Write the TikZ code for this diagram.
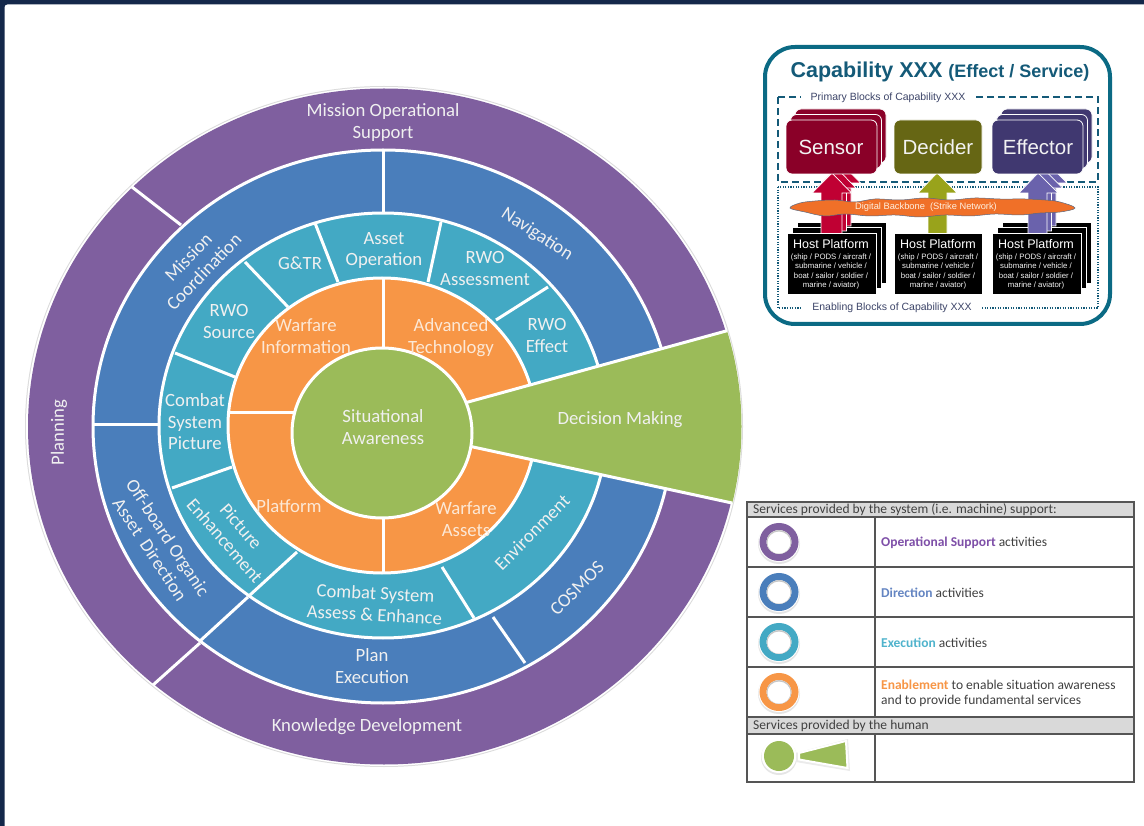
\documentclass[tikz,border=0pt]{standalone}
\usepackage{fontspec}
\setmainfont{Carlito}
\newfontfamily\arialf{Liberation Sans}
\definecolor{navybg}{HTML}{14284A}
\definecolor{cpurple}{HTML}{7F5F9F}
\definecolor{cblue}{HTML}{4A7EBB}
\definecolor{cteal}{HTML}{43A9C4}
\definecolor{corange}{HTML}{F79646}
\definecolor{cgreen}{HTML}{9BBB59}
\definecolor{wtext}{HTML}{F0F0F0}
\definecolor{otext}{HTML}{FCE8D6}
\definecolor{boxteal}{HTML}{0B6A84}
\definecolor{titleteal}{HTML}{145A78}
\definecolor{labelgrey}{HTML}{3C4468}
\definecolor{csensor}{HTML}{8A0028}
\definecolor{cdecider}{HTML}{666614}
\definecolor{ceffector}{HTML}{403870}
\definecolor{asensor}{HTML}{C00033}
\definecolor{adecider}{HTML}{99A31B}
\definecolor{aeffector}{HTML}{6A62AC}
\definecolor{ccloud}{HTML}{F07028}
\definecolor{tline}{HTML}{555555}
\definecolor{thead}{HTML}{D9D9D9}
\definecolor{ttext}{HTML}{404040}
\tikzset{
  wt/.style={font=\fontsize{18.7}{21.5}\selectfont,align=center,text=wtext,inner sep=0pt,yshift=-1.5pt},
  ot/.style={wt,text=otext},
  ringb/.style={draw=white,line width=3pt},
  sep/.style={draw=white,line width=3pt},
  block/.style={draw=white,line width=0.8pt,rounded corners=6pt},
  hostbox/.style={draw=white,line width=0.8pt,fill=black},
  blocktext/.style={text=white!90!gray,font=\arialf\fontsize{20.5}{24}\selectfont,inner sep=0pt},
  hosthead/.style={text=white,font=\arialf\fontsize{12.5}{14}\selectfont,inner sep=0pt},
  hostsub/.style={text=white!92!gray,font=\arialf\fontsize{7.8}{9.6}\selectfont,align=center,inner sep=0pt},
  boxlabel/.style={text=labelgrey,fill=white,font=\arialf\fontsize{10.5}{12}\selectfont,inner xsep=10pt,inner ysep=2pt},
  arrowb/.style={draw=white,line width=0.7pt},
  tl/.style={draw=tline,line width=1.1pt},
  lt/.style={font=\fontsize{13.5}{15}\selectfont,text=ttext,inner sep=0pt,anchor=west,align=left},
  hd/.style={lt,text=ttext}
}
\begin{document}
\begin{tikzpicture}[x=1pt,y=-1pt]
\useasboundingbox (0,0) rectangle (1144,826);
% page
\fill[navybg] (0,0) rectangle (1144,826);
\fill[white,rounded corners=3pt] (4.5,4.5) -- (1150,4.5) -- (1150,832) -- (4.5,832) -- cycle;
% wheel
\fill[black!14] (384,426.5) ellipse [x radius=359,y radius=340.5];
\fill[white] (384,426.5) ellipse [x radius=358,y radius=339.5];
\fill[cpurple] (384,426.5) ellipse [x radius=356,y radius=338];
\filldraw[fill=cblue,ringb] (383,426.5) ellipse [x radius=290,y radius=276.5];
\filldraw[fill=cteal,ringb] (383,425.5) ellipse [x radius=224,y radius=212.5];
\filldraw[fill=corange,ringb] (382,425.5) ellipse [x radius=154,y radius=147.5];
% separators
\draw[sep] (132,187) -- (181,225);
\draw[sep] (153,685) -- (200,643);
\draw[sep] (200,641) -- (248,597);
\draw[sep] (250,595) -- (297,552);
\draw[sep] (383,151) -- (383,213);
\draw[sep] (93,425) -- (158,425);
\draw[sep] (493,617) -- (525,663);
\draw[sep] (315,223) -- (338,282);
\draw[sep] (245,262) -- (288,307);
\draw[sep] (175,353) -- (235,377);
\draw[sep] (441,222) -- (428,282);
\draw[sep] (548,287) -- (496,320);
\draw[sep] (172,488) -- (232,467);
\draw[sep] (442,567) -- (474,618);
\draw[sep] (383,279) -- (383,350);
\draw[sep] (230,413) -- (295,413);
\draw[sep] (383,516) -- (383,572);
% decision wedge
\begin{scope}
  \clip (384,426.5) ellipse [x radius=357.5,y radius=339];
  \filldraw[fill=cgreen,draw=white,line width=3pt] (450,407) -- (726,331) -- (800,331) -- (800,503) -- (732,503) -- (450,442) -- cycle;
\end{scope}
% centre
\filldraw[fill=cgreen,ringb] (382,433) ellipse [x radius=90,y radius=85];
% wheel labels
\node[wt] (mos) at (383,121) {Mission Operational\\Support};
\node[wt,rotate=90] (plan) at (59,431) {Planning};
\node[wt] (know) at (367,725) {Knowledge Development};
\node[wt,rotate=46] (coord) at (196,263) {Mission\\Coordination};
\node[wt,rotate=-33] (navi) at (537,233) {Navigation};
\node[wt,rotate=-56.5] (offb) at (159,542) {Off-board Organic\\Asset\ \ Direction};
\node[wt,rotate=45] (cosm) at (577,587) {COSMOS};
\node[wt] (plex) at (372,664.5) {Plan\\Execution};
\node[wt] (asop) at (384,249) {Asset\\Operation};
\node[wt] (gtr) at (300,262) {G\&TR};
\node[wt] (rsrc) at (229,320) {RWO\\Source};
\node[wt] (csp) at (195,420.5) {Combat\\System\\Picture};
\node[wt] (rass) at (485,267) {RWO\\Assessment};
\node[wt] (reff) at (547,334) {RWO\\Effect};
\node[wt,rotate=-49] (penh) at (233,532) {Picture\\Enhancement};
\node[wt,rotate=-3] (cmbt) at (375,602.5) {Combat System\\Assess \& Enhance};
\node[wt,rotate=45] (envi) at (532,531) {Environment};
\node[ot] (winf) at (306,334.5) {Warfare\\Information};
\node[ot] (advt) at (451,336) {Advanced\\Technology};
\node[ot] (plat) at (289,504.5) {Platform};
\node[ot] (wass) at (466,517.5) {Warfare\\Assets};
\node[wt] (situ) at (383,425.5) {Situational\\Awareness};
\node[wt] (deci) at (620,418) {Decision Making};
% capability inset
\draw[boxteal,line width=4pt,rounded corners=30pt] (765,47) rectangle (1110,324);
\node[inner sep=0pt,text=titleteal,font=\arialf\bfseries\fontsize{21.5}{26}\selectfont] (ttl) at (940,71.5) {Capability XXX {\fontsize{18}{22}\selectfont (Effect / Service)}};
\draw[titleteal,line width=1.2pt,dash pattern=on 7pt off 4pt] (778,97) rectangle (1098,182);
\draw[titleteal,line width=1.1pt,dash pattern=on 1.2pt off 1.4pt] (778,187) rectangle (1098,308);
\node[boxlabel] (prim) at (888,97.5) {Primary Blocks of Capability XXX};
\node[boxlabel] (enab) at (892,308) {Enabling Blocks of Capability XXX};
% host platforms, rear
\foreach \dx/\dy in {10/-11,5/-5.5} {
  \draw[hostbox,shift={(\dx,\dy)}] (787,233) rectangle (876,294);
  \draw[hostbox,shift={(\dx,\dy)}] (992,233) rectangle (1081,294);
}
% arrows
\foreach \dx/\dy in {9/-10,4.5/-5,0/0} {
  \filldraw[fill=asensor,arrowb,shift={(\dx,\dy)}] (832,173) -- (851.5,193) -- (842,193) -- (842,236) -- (821,236) -- (821,193) -- (812,193) -- cycle;
  \filldraw[fill=aeffector,arrowb,shift={(\dx,\dy)}] (1038,173) -- (1058,193) -- (1047,193) -- (1047,236) -- (1028,236) -- (1028,193) -- (1019,193) -- cycle;
}
\filldraw[fill=adecider,arrowb] (937,173) -- (957,193) -- (947,193) -- (947,236) -- (928,236) -- (928,193) -- (918,193) -- cycle;
% primary blocks
\foreach \dx/\dy in {9/-11,4.5/-5.5,0/0} {
  \filldraw[fill=csensor,block,shift={(\dx,\dy)}] (786,120) rectangle (877,174);
  \filldraw[fill=ceffector,block,shift={(\dx,\dy)}] (992,120) rectangle (1083,174);
}
\filldraw[fill=cdecider,block] (894,120) rectangle (982,174);
\node[blocktext] (sens) at (831,147.5) {Sensor};
\node[blocktext] (decd) at (938,147.5) {Decider};
\node[blocktext] (effc) at (1038,147.5) {Effector};
% front hosts
\draw[hostbox] (787,233) rectangle (876,294);
\draw[hostbox] (894,233) rectangle (982,294);
\draw[hostbox] (992,233) rectangle (1081,294);
\foreach \n/\cx in {a/831,b/938,c/1036} {
  \node[hosthead] (hh\n) at (\cx,244) {Host Platform};
  \node[hostsub] (hs\n) at (\cx,271.5) {(ship / PODS / aircraft /\\submarine / vehicle /\\boat / sailor / soldier /\\marine / aviator)};
}
% cloud
\filldraw[fill=ccloud,draw=navybg!70,line width=0.5pt] plot[smooth cycle,tension=0.6] coordinates {(790,208) (800,203) (815,201) (835,200) (855,202) (875,199) (900,200) (925,198) (950,200) (975,198) (1000,199) (1025,199) (1045,200) (1060,202) (1075,208) (1060,212) (1040,213) (1020,215) (995,214) (970,216) (945,215) (920,217) (895,215) (870,216) (845,214) (825,216) (805,212)};
\node[text=white!88!orange,inner sep=0pt,font=\arialf\fontsize{9.3}{11}\selectfont] (dbb) at (926,207) {Digital Backbone\ \ (Strike Network)};
% legend table
\fill[thead] (747,502) rectangle (1134,517);
\fill[thead] (747,717) rectangle (1134,734);
\draw[tl] (747,502) rectangle (1134,782);
\foreach \yy in {517,567,617,667,717,734} \draw[tl] (747,\yy) -- (1134,\yy);
\foreach \ya/\yb in {517/717,734/782} \draw[tl] (875,\ya) -- (875,\yb);
\node[hd] (h1) at (753,509.5) {Services provided by the system (i.e. machine) support:};
\node[hd] (h2) at (753,725.5) {Services provided by the human};
\foreach \yy/\cc in {542/cpurple,592/cblue,642/cteal,692/corange} {
  \fill[black!10] (779,\yy+1.5) ellipse [x radius=21,y radius=20.5];
  \fill[white] (779,\yy) ellipse [x radius=20.5,y radius=20];
  \draw[\cc,line width=7pt] (779,\yy) ellipse [x radius=16,y radius=15.5];
  \fill[black!22] (779,\yy) ellipse [x radius=12.5,y radius=12];
  \fill[white] (779,\yy+0.6) ellipse [x radius=11.5,y radius=11];
}
\node[lt] (l1) at (881,543) {\textbf{\textcolor[HTML]{7E4FA8}{Operational Support}} activities};
\node[lt] (l2) at (881,593) {\textbf{\textcolor[HTML]{6485C2}{Direction}} activities};
\node[lt] (l3) at (881,643) {\textbf{\textcolor[HTML]{4FB3CC}{Execution}} activities};
\node[lt] (l4) at (881,693) {\textbf{\textcolor[HTML]{F79646}{Enablement}} to enable situation awareness\\and to provide fundamental services};
% human icon
\fill[black!10] (779,757.5) ellipse [x radius=18,y radius=17.5];
\fill[white] (779,756) ellipse [x radius=17.5,y radius=17];
\fill[cgreen] (779,756) ellipse [x radius=15,y radius=15];
\fill[black!8] (796,753) -- (848,739) -- (850,771) -- (796,762) -- cycle;
\filldraw[fill=cgreen,draw=white,line width=2pt] (799,753) -- (846,741) -- (847.5,768) -- (799,759.5) -- cycle;
\end{tikzpicture}
\end{document}
